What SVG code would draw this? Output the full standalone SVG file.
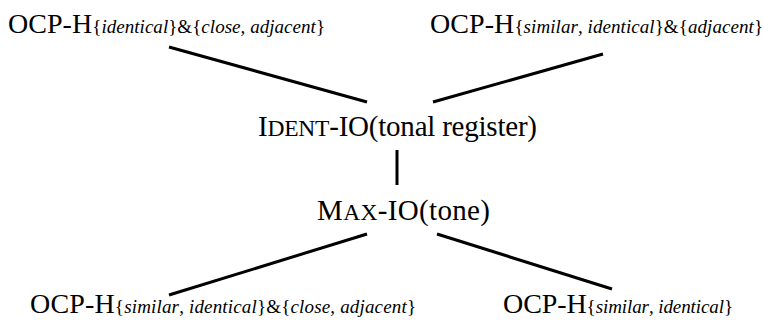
<svg xmlns="http://www.w3.org/2000/svg" width="764" height="323" viewBox="0 0 764 323">
<style>
.t{font-family:"Liberation Serif","Times New Roman",serif;font-size:28px;fill:#000}
.m{font-size:29px}
.s{font-size:19px}
.i{font-style:italic}
.sc{font-size:23.5px}
.c line{stroke:#000;stroke-width:3;stroke-linecap:butt}
</style>
<rect width="764" height="323" fill="#fff"/>
<g class="c" id="connectors">
<line x1="169" y1="47" x2="367" y2="102"/>
<line x1="603" y1="54" x2="433" y2="102"/>
<line x1="397" y1="150" x2="397" y2="185"/>
<line x1="367" y1="234" x2="169" y2="295"/>
<line x1="437" y1="234" x2="612" y2="289"/>
</g>
<g id="n1"><text class="t" x="8" y="33" textLength="317" lengthAdjust="spacing">OCP-H<tspan class="s">{<tspan class="i">identical</tspan>}&amp;{<tspan class="i">close, adjacent</tspan>}</tspan></text></g>
<g id="n2"><text class="t" x="430" y="33" textLength="333" lengthAdjust="spacing">OCP-H<tspan class="s">{<tspan class="i">similar</tspan>, <tspan class="i">identical</tspan>}&amp;{<tspan class="i">adjacent</tspan>}</tspan></text></g>
<g id="n3"><text class="t m" x="258" y="136" textLength="279" lengthAdjust="spacing">I<tspan class="sc">DENT</tspan>-IO(tonal register)</text></g>
<g id="n4"><text class="t m" x="317" y="220" textLength="173" lengthAdjust="spacing">M<tspan class="sc">AX</tspan>-IO(tone)</text></g>
<g id="n5"><text class="t" x="30" y="313" textLength="386" lengthAdjust="spacing">OCP-H<tspan class="s">{<tspan class="i">similar</tspan>, <tspan class="i">identical</tspan>}&amp;{<tspan class="i">close, adjacent</tspan>}</tspan></text></g>
<g id="n6"><text class="t" x="503" y="313" textLength="230" lengthAdjust="spacing">OCP-H<tspan class="s">{<tspan class="i">similar</tspan>, <tspan class="i">identical</tspan>}</tspan></text></g>
</svg>
